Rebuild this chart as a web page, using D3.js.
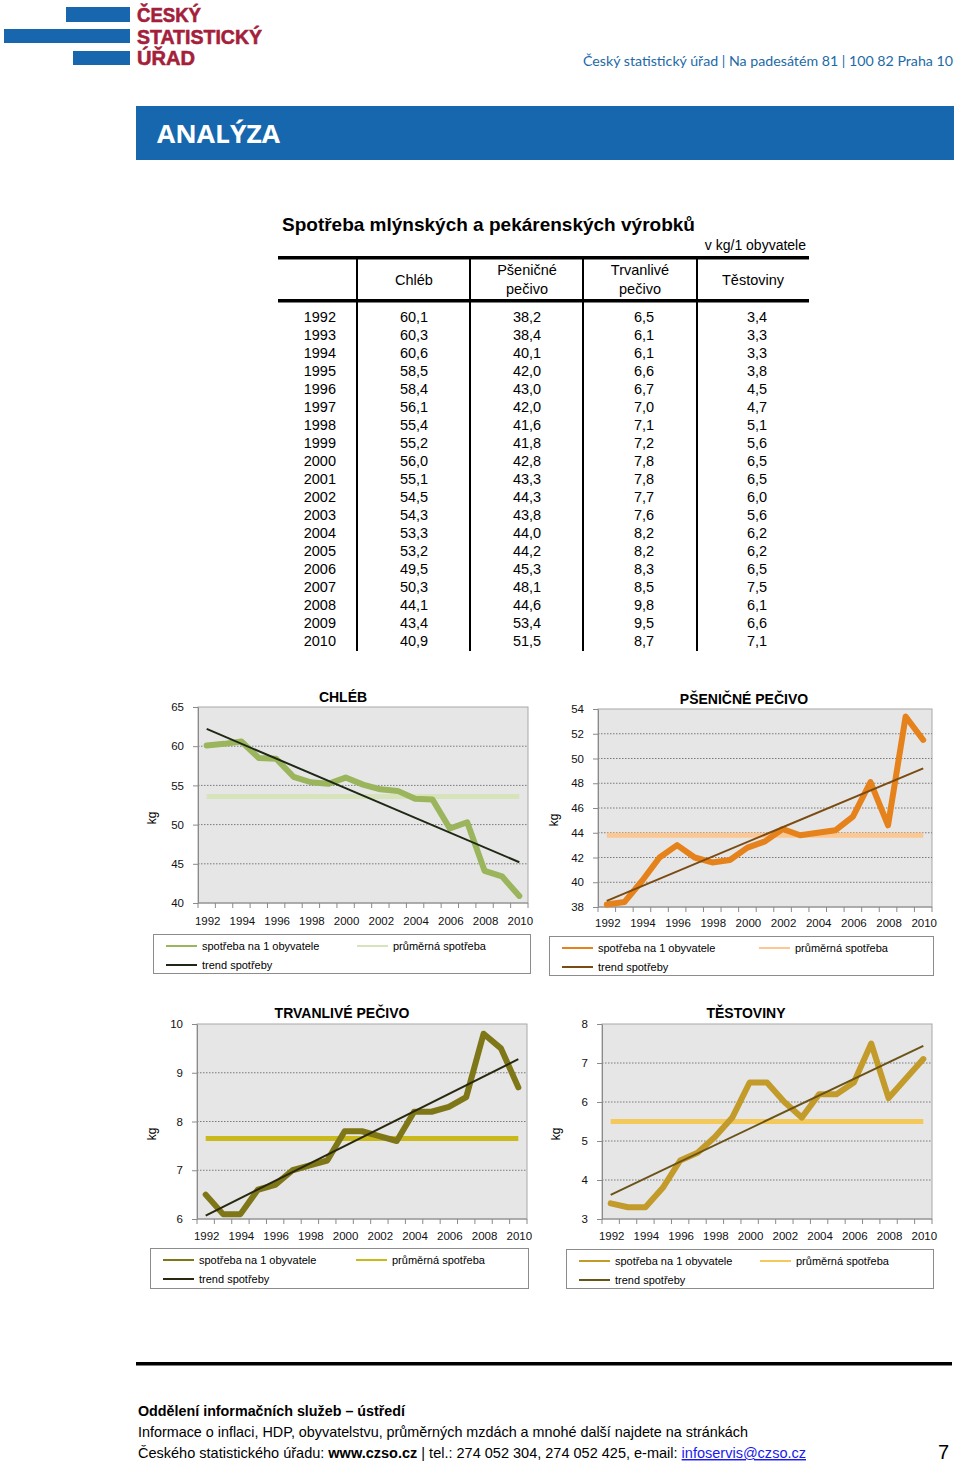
<!DOCTYPE html>
<html><head><meta charset="utf-8">
<script src="https://cdn.jsdelivr.net/npm/d3@7"></script>
<style>
body{margin:0;background:#fff}
svg{display:block}
text{font-family:"Liberation Sans",Arial,sans-serif}
</style>
</head><body>
<svg id="page" width="960" height="1467"></svg>
<script>
// ---------------- DATA ----------------
const years=[1992,1993,1994,1995,1996,1997,1998,1999,2000,2001,2002,2003,2004,2005,2006,2007,2008,2009,2010];
const chleb=[60.1,60.3,60.6,58.5,58.4,56.1,55.4,55.2,56.0,55.1,54.5,54.3,53.3,53.2,49.5,50.3,44.1,43.4,40.9];
const psenicne=[38.2,38.4,40.1,42.0,43.0,42.0,41.6,41.8,42.8,43.3,44.3,43.8,44.0,44.2,45.3,48.1,44.6,53.4,51.5];
const trvanlive=[6.5,6.1,6.1,6.6,6.7,7.0,7.1,7.2,7.8,7.8,7.7,7.6,8.2,8.2,8.3,8.5,9.8,9.5,8.7];
const testoviny=[3.4,3.3,3.3,3.8,4.5,4.7,5.1,5.6,6.5,6.5,6.0,5.6,6.2,6.2,6.5,7.5,6.1,6.6,7.1];
const tableHeaders=[["Chléb"],["Pšeničné","pečivo"],["Trvanlivé","pečivo"],["Těstoviny"]];
const chartTitles=["CHLÉB","PŠENIČNÉ PEČIVO","TRVANLIVÉ PEČIVO","TĚSTOVINY"];
const averages=[53.6,43.8,7.65,5.5];
const trendStart=[62.2,38.5,6.07,3.62];
const trendEnd=[45.2,49.2,9.28,7.44];
const yTicksChleb=[40,45,50,55,60,65];
const yTicksPsenicne=[38,40,42,44,46,48,50,52,54];
const yTicksTrvanlive=[6,7,8,9,10];
const yTicksTestoviny=[3,4,5,6,7,8];
const xTickLabels=[1992,1994,1996,1998,2000,2002,2004,2006,2008,2010];
const legendLabels=["spotřeba na 1 obyvatele","průměrná spotřeba","trend spotřeby"];

// ---------------- PAGE ----------------
const svg=d3.select("#page");
const fmt=v=>d3.format(".1f")(v).replace(".",",");

// logo
[[66,7,64,15],[4,29,126,14],[73,51,57,14]].forEach(r=>svg.append("rect").attr("x",r[0]).attr("y",r[1]).attr("width",r[2]).attr("height",r[3]).attr("fill","#1766ae"));
[["ČESKÝ",22,64],["STATISTICKÝ",44,125],["ÚŘAD",65,58]].forEach(t=>svg.append("text").attr("x",137).attr("y",t[1]).attr("font-size",21).attr("font-weight","bold").attr("fill","#a4203a").attr("stroke","#a4203a").attr("stroke-width",0.6).attr("textLength",t[2]).attr("lengthAdjust","spacingAndGlyphs").text(t[0]));
svg.append("text").attr("x",583).attr("y",66).attr("font-size",14).attr("fill","#1d6aa6").style("font-family","Lato, 'Open Sans', sans-serif").attr("textLength",370).attr("lengthAdjust","spacingAndGlyphs").text("Český statistický úřad | Na padesátém 81 | 100 82  Praha 10");

// banner
svg.append("rect").attr("x",136).attr("y",106).attr("width",818).attr("height",54).attr("fill","#1667ae");
svg.append("text").attr("x",157).attr("y",143).attr("font-size",25).attr("font-weight","bold").attr("fill","#fff").attr("textLength",123).attr("lengthAdjust","spacingAndGlyphs").style("font-family","'Open Sans', Arial, sans-serif").text("ANALÝZA");

// ---------------- TABLE ----------------
svg.append("text").attr("x",282).attr("y",231).attr("font-size",19).attr("font-weight","bold").text("Spotřeba mlýnských a pekárenských výrobků");
svg.append("text").attr("x",806).attr("y",250).attr("font-size",14).attr("text-anchor","end").text("v kg/1 obyvatele");
const tg=svg.append("g");
tg.append("rect").attr("x",278).attr("y",256).attr("width",531).attr("height",3.5).attr("fill","#000");
tg.append("rect").attr("x",278).attr("y",299).attr("width",531).attr("height",3.5).attr("fill","#000");
const colLines=[357,470,583,697];
colLines.forEach(x=>tg.append("rect").attr("x",x-1).attr("y",258).attr("width",2).attr("height",393).attr("fill","#000"));
const colCenters=[414,527,640,753];
tableHeaders.forEach((h,i)=>{
  if(h.length===1){tg.append("text").attr("x",colCenters[i]).attr("y",285).attr("font-size",14.5).attr("text-anchor","middle").text(h[0]);}
  else{h.forEach((s,j)=>tg.append("text").attr("x",colCenters[i]).attr("y",275+j*19).attr("font-size",14.5).attr("text-anchor","middle").text(s));}
});
const cols=[chleb,psenicne,trvanlive,testoviny];
const valX=[414,527,644,757];
years.forEach((yr,r)=>{
  const yy=322+r*18;
  tg.append("text").attr("x",336).attr("y",yy).attr("font-size",14.5).attr("text-anchor","end").text(yr);
  cols.forEach((c,i)=>tg.append("text").attr("x",valX[i]).attr("y",yy).attr("font-size",14.5).attr("text-anchor","middle").text(fmt(c[r])));
});

// ---------------- CHARTS ----------------
const layouts=[
 {x0:198,x1:528,y0:707,y1:903,title:[343,702],kg:[156,818],leg:[153,934,377,39],col2:204,xl:921,
  c:["#9bb55c","#d7e3bb","#1e2814"]},
 {x0:598,x1:932,y0:709,y1:907,title:[744,704],kg:[558,820],leg:[549,936,384,39],col2:210,xl:923,
  c:["#e5821c","#fbc792","#7b4b12"]},
 {x0:197,x1:527,y0:1024,y1:1219,title:[342,1018],kg:[156,1134],leg:[150,1248,378,40],col2:206,xl:1236,
  c:["#7e7617","#c9b91b","#29280f"]},
 {x0:602,x1:932,y0:1024,y1:1219,title:[746,1018],kg:[560,1134],leg:[566,1249,367,39],col2:194,xl:1236,
  c:["#c39b2a","#f3c95b","#6b5317"]}
];
const seriesList=[chleb,psenicne,trvanlive,testoviny];
const tickList=[yTicksChleb,yTicksPsenicne,yTicksTrvanlive,yTicksTestoviny];

layouts.forEach((L,i)=>{
  const g=svg.append("g");
  const ticks=tickList[i];
  const x=d3.scaleBand().domain(years).range([L.x0,L.x1]);
  const cx=d=>x(d)+x.bandwidth()/2;
  const y=d3.scaleLinear().domain([ticks[0],ticks[ticks.length-1]]).range([L.y1,L.y0]);
  g.append("rect").attr("x",L.x0).attr("y",L.y0).attr("width",L.x1-L.x0).attr("height",L.y1-L.y0).attr("fill","#e6e6e6").attr("stroke","#a8a8a8").attr("stroke-width",1);
  ticks.slice(1,-1).forEach(t=>g.append("line").attr("x1",L.x0).attr("x2",L.x1).attr("y1",y(t)).attr("y2",y(t)).attr("stroke","#7a7a7a").attr("stroke-width",1).attr("stroke-dasharray","1.5,1.5"));
  // y axis
  const ya=g.append("g").attr("transform",`translate(${L.x0},0)`).call(d3.axisLeft(y).tickValues(ticks).tickFormat(d3.format("d")).tickSize(5).tickPadding(9).tickSizeOuter(0));
  ya.attr("font-family",null);
  ya.select(".domain").attr("stroke","#8a8a8a");
  ya.selectAll(".tick line").attr("stroke","#8a8a8a");
  ya.selectAll("text").attr("font-size",11.5).attr("fill","#111");
  // x axis
  g.append("line").attr("x1",L.x0).attr("x2",L.x1).attr("y1",L.y1).attr("y2",L.y1).attr("stroke","#8a8a8a");
  years.concat([null]).forEach((yr,k)=>{const xx=yr===null?L.x1:x(yr);g.append("line").attr("x1",xx).attr("x2",xx).attr("y1",L.y1).attr("y2",L.y1+5).attr("stroke","#8a8a8a");});
  xTickLabels.forEach(yr=>g.append("text").attr("x",cx(yr)+1).attr("y",L.xl+4).attr("font-size",11.5).attr("text-anchor","middle").attr("fill","#111").text(yr));
  // average
  g.append("line").attr("x1",cx(years[0])).attr("x2",cx(years[years.length-1])).attr("y1",y(averages[i])).attr("y2",y(averages[i])).attr("stroke",L.c[1]).attr("stroke-width",5);
  // series
  const vals=seriesList[i];
  g.append("path").datum(years.map((yr,k)=>[yr,vals[k]])).attr("d",d3.line().x(d=>cx(d[0])).y(d=>y(d[1]))).attr("fill","none").attr("stroke",L.c[0]).attr("stroke-width",6).attr("stroke-linejoin","round").attr("stroke-linecap","round");
  // trend
  g.append("line").attr("x1",cx(years[0])).attr("x2",cx(years[years.length-1])).attr("y1",y(trendStart[i])).attr("y2",y(trendEnd[i])).attr("stroke",L.c[2]).attr("stroke-width",2);
  // title
  g.append("text").attr("x",L.title[0]).attr("y",L.title[1]).attr("font-size",14).attr("font-weight","bold").attr("text-anchor","middle").text(chartTitles[i]);
  g.append("text").attr("transform",`translate(${L.kg[0]},${L.kg[1]}) rotate(-90)`).attr("font-size",12).attr("text-anchor","middle").text("kg");
  // legend
  const [bx,by,bw,bh]=L.leg;
  g.append("rect").attr("x",bx+0.5).attr("y",by+0.5).attr("width",bw).attr("height",bh).attr("fill","#fff").attr("stroke","#8c8c8c");
  const items=[[13,12,L.c[0]],[L.col2,12,L.c[1]],[13,31,L.c[2]]];
  items.forEach((it,k)=>{
    g.append("line").attr("x1",bx+it[0]).attr("x2",bx+it[0]+31).attr("y1",by+it[1]).attr("y2",by+it[1]).attr("stroke",it[2]).attr("stroke-width",2);
    g.append("text").attr("x",bx+it[0]+36).attr("y",by+it[1]+4).attr("font-size",11).text(legendLabels[k]);
  });
});

// ---------------- FOOTER ----------------
svg.append("rect").attr("x",136).attr("y",1362).attr("width",816).attr("height",3.5).attr("fill","#000");
const f1=svg.append("text").attr("x",138).attr("y",1416).attr("font-size",14.5).attr("font-weight","bold").attr("textLength",267).attr("lengthAdjust","spacingAndGlyphs").text("Oddělení informačních služeb – ústředí");
svg.append("text").attr("x",138).attr("y",1437).attr("font-size",14.5).attr("textLength",610).attr("lengthAdjust","spacingAndGlyphs").text("Informace o inflaci, HDP, obyvatelstvu, průměrných mzdách a mnohé další najdete na stránkách");
const l3=svg.append("text").attr("x",138).attr("y",1458).attr("font-size",14.5).attr("textLength",668).attr("lengthAdjust","spacingAndGlyphs");
l3.append("tspan").text("Českého statistického úřadu: ");
l3.append("tspan").attr("font-weight","bold").text("www.czso.cz");
l3.append("tspan").text("  |  tel.: 274 052 304, 274 052 425, e-mail: ");
l3.append("tspan").attr("fill","#1a1aee").attr("text-decoration","underline").text("infoservis@czso.cz");
svg.append("text").attr("x",949).attr("y",1459).attr("font-size",20).attr("text-anchor","end").text("7");
</script>
</body></html>
